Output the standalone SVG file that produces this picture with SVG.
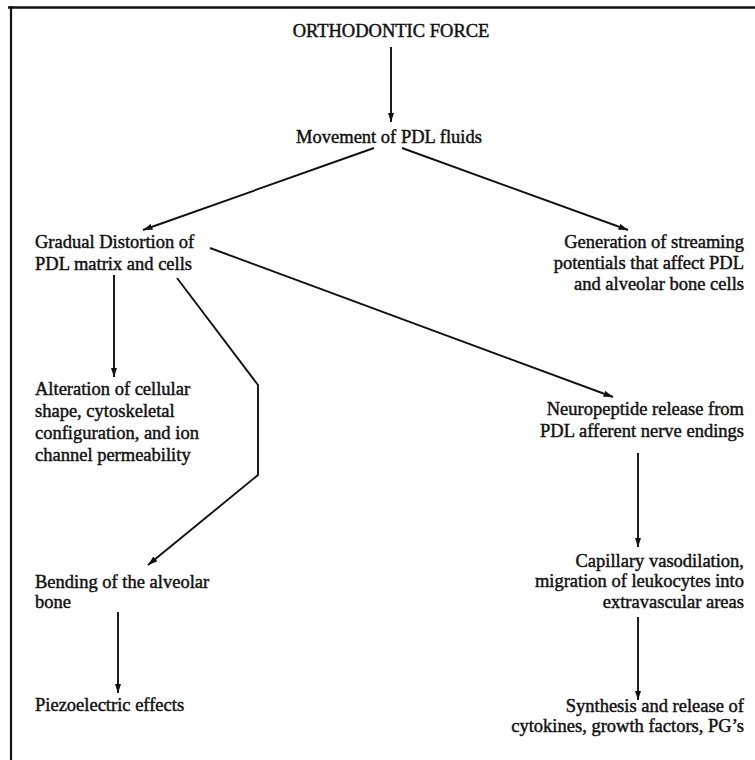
<svg xmlns="http://www.w3.org/2000/svg" width="755" height="760" viewBox="0 0 755 760">
<defs>
<style>
.t{font-family:"Liberation Serif","Times New Roman",serif;font-size:18.5px;fill:#111;stroke:#111;stroke-width:0.45}
.l{text-anchor:start}
.r{text-anchor:end}
.c{text-anchor:middle}
.ln{fill:none;stroke:#111;stroke-width:1.9}
.b{fill:none;stroke:#111}
</style>
<marker id="ah" markerUnits="userSpaceOnUse" markerWidth="10" markerHeight="8" viewBox="0 0 10 8" refX="9.5" refY="4" orient="auto">
<path d="M0,0.8 L9.5,4 L0,7.2 Z" fill="#111"/>
</marker>
</defs>
<rect width="755" height="760" fill="#fff"/>
<g id="frame">
<line class="b" x1="8" y1="7.5" x2="755" y2="7.5" stroke-width="2.6"/>
<line class="b" x1="11" y1="6" x2="11" y2="760" stroke-width="2.2"/>
</g>
<g id="connectors">
<line class="ln" x1="391" y1="47" x2="391" y2="122" marker-end="url(#ah)"/>
<line class="ln" x1="374" y1="148" x2="143" y2="230" marker-end="url(#ah)"/>
<line class="ln" x1="402" y1="148" x2="628" y2="230" marker-end="url(#ah)"/>
<line class="ln" x1="114" y1="275" x2="114" y2="377" marker-end="url(#ah)"/>
<polyline class="ln" points="177,278 258,385 258,475 148,565" marker-end="url(#ah)"/>
<line class="ln" x1="210" y1="248" x2="613" y2="397" marker-end="url(#ah)"/>
<line class="ln" x1="638" y1="453" x2="638" y2="547" marker-end="url(#ah)"/>
<line class="ln" x1="638" y1="617" x2="638" y2="700" marker-end="url(#ah)"/>
<line class="ln" x1="118" y1="612" x2="118" y2="693" marker-end="url(#ah)"/>
</g>
<g id="force"><text class="t c" x="391" y="37">ORTHODONTIC FORCE</text></g>
<g id="fluids"><text class="t c" x="389" y="143">Movement of PDL fluids</text></g>
<g id="distortion">
<text class="t l" x="35" y="248">Gradual Distortion of</text>
<text class="t l" x="35" y="270">PDL matrix and cells</text>
</g>
<g id="streaming">
<text class="t r" x="744" y="248">Generation of streaming</text>
<text class="t r" x="744" y="269">potentials that affect PDL</text>
<text class="t r" x="744" y="290">and alveolar bone cells</text>
</g>
<g id="alteration">
<text class="t l" x="35" y="395">Alteration of cellular</text>
<text class="t l" x="35" y="417">shape, cytoskeletal</text>
<text class="t l" x="35" y="439">configuration, and ion</text>
<text class="t l" x="35" y="461">channel permeability</text>
</g>
<g id="neuropeptide">
<text class="t r" x="744" y="415">Neuropeptide release from</text>
<text class="t r" x="744" y="437">PDL afferent nerve endings</text>
</g>
<g id="bending">
<text class="t l" x="35" y="588">Bending of the alveolar</text>
<text class="t l" x="35" y="608">bone</text>
</g>
<g id="capillary">
<text class="t r" x="744" y="567">Capillary vasodilation,</text>
<text class="t r" x="744" y="587">migration of leukocytes into</text>
<text class="t r" x="744" y="608">extravascular areas</text>
</g>
<g id="piezo"><text class="t l" x="35" y="711">Piezoelectric effects</text></g>
<g id="synthesis">
<text class="t r" x="744" y="712">Synthesis and release of</text>
<text class="t r" x="744" y="732">cytokines, growth factors, PG’s</text>
</g>
</svg>
